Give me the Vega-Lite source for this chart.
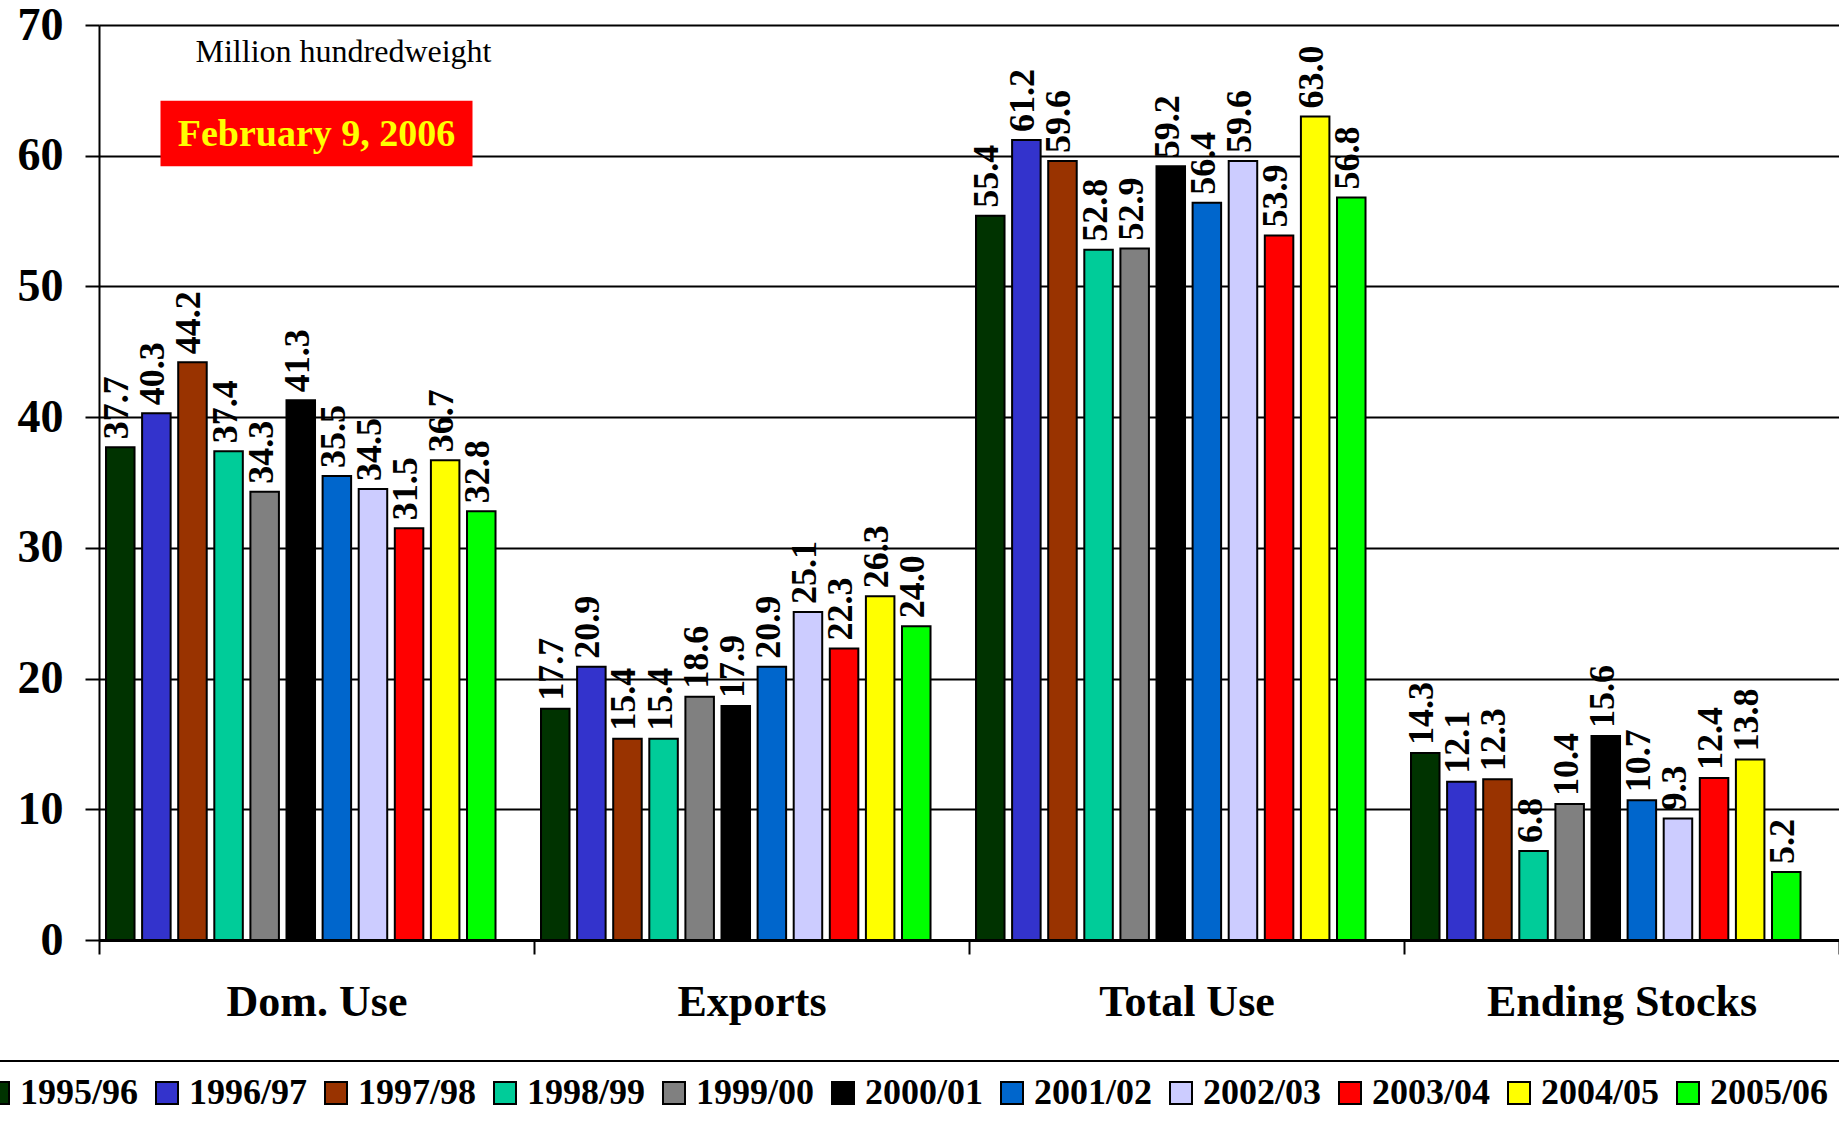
{
  "$schema": "https://vega.github.io/schema/vega-lite/v6.json",
  "width": 1740,
  "height": 915,
  "autosize": {"type": "none"},
  "padding": {"left": 99, "top": 25, "right": 0, "bottom": 181},
  "background": "white",
  "config": {
    "font": "Liberation Serif",
    "view": {"stroke": null},
    "axis": {
      "domainColor": "black",
      "tickColor": "black",
      "tickWidth": 2,
      "tickSize": 14,
      "labelFont": "Liberation Serif",
      "labelFontWeight": "bold",
      "labelColor": "black",
      "labelLimit": 0,
      "gridColor": "black",
      "gridWidth": 2
    },
    "legend": {
      "orient": "none",
      "legendX": -133,
      "legendY": 1036,
      "direction": "horizontal",
      "columns": 11,
      "padding": 14,
      "strokeColor": "black",
      "strokeWidth": 2,
      "symbolType": "square",
      "symbolSize": 484,
      "symbolStrokeColor": "black",
      "symbolStrokeWidth": 2,
      "labelFont": "Liberation Serif",
      "labelFontWeight": "bold",
      "labelFontSize": 36,
      "labelColor": "black",
      "labelOffset": 4,
      "columnPadding": 10,
      "labelLimit": 0
    }
  },
  "datasets": {
    "supply": [
      {"item": "Dom. Use", "season": "1995/96", "value": 37.7},
      {"item": "Dom. Use", "season": "1996/97", "value": 40.3},
      {"item": "Dom. Use", "season": "1997/98", "value": 44.2},
      {"item": "Dom. Use", "season": "1998/99", "value": 37.4},
      {"item": "Dom. Use", "season": "1999/00", "value": 34.3},
      {"item": "Dom. Use", "season": "2000/01", "value": 41.3},
      {"item": "Dom. Use", "season": "2001/02", "value": 35.5},
      {"item": "Dom. Use", "season": "2002/03", "value": 34.5},
      {"item": "Dom. Use", "season": "2003/04", "value": 31.5},
      {"item": "Dom. Use", "season": "2004/05", "value": 36.7},
      {"item": "Dom. Use", "season": "2005/06", "value": 32.8},
      {"item": "Exports", "season": "1995/96", "value": 17.7},
      {"item": "Exports", "season": "1996/97", "value": 20.9},
      {"item": "Exports", "season": "1997/98", "value": 15.4},
      {"item": "Exports", "season": "1998/99", "value": 15.4},
      {"item": "Exports", "season": "1999/00", "value": 18.6},
      {"item": "Exports", "season": "2000/01", "value": 17.9},
      {"item": "Exports", "season": "2001/02", "value": 20.9},
      {"item": "Exports", "season": "2002/03", "value": 25.1},
      {"item": "Exports", "season": "2003/04", "value": 22.3},
      {"item": "Exports", "season": "2004/05", "value": 26.3},
      {"item": "Exports", "season": "2005/06", "value": 24.0},
      {"item": "Total Use", "season": "1995/96", "value": 55.4},
      {"item": "Total Use", "season": "1996/97", "value": 61.2},
      {"item": "Total Use", "season": "1997/98", "value": 59.6},
      {"item": "Total Use", "season": "1998/99", "value": 52.8},
      {"item": "Total Use", "season": "1999/00", "value": 52.9},
      {"item": "Total Use", "season": "2000/01", "value": 59.2},
      {"item": "Total Use", "season": "2001/02", "value": 56.4},
      {"item": "Total Use", "season": "2002/03", "value": 59.6},
      {"item": "Total Use", "season": "2003/04", "value": 53.9},
      {"item": "Total Use", "season": "2004/05", "value": 63.0},
      {"item": "Total Use", "season": "2005/06", "value": 56.8},
      {"item": "Ending Stocks", "season": "1995/96", "value": 14.3},
      {"item": "Ending Stocks", "season": "1996/97", "value": 12.1},
      {"item": "Ending Stocks", "season": "1997/98", "value": 12.3},
      {"item": "Ending Stocks", "season": "1998/99", "value": 6.8},
      {"item": "Ending Stocks", "season": "1999/00", "value": 10.4},
      {"item": "Ending Stocks", "season": "2000/01", "value": 15.6},
      {"item": "Ending Stocks", "season": "2001/02", "value": 10.7},
      {"item": "Ending Stocks", "season": "2002/03", "value": 9.3},
      {"item": "Ending Stocks", "season": "2003/04", "value": 12.4},
      {"item": "Ending Stocks", "season": "2004/05", "value": 13.8},
      {"item": "Ending Stocks", "season": "2005/06", "value": 5.2}
    ],
    "stamp": [
      {"item": "Dom. Use", "label": "February 9, 2006", "lo": 59.2, "hi": 64.2, "mid": 61.6}
    ],
    "unit": [
      {"item": "Dom. Use", "label": "Million hundredweight", "at": 67.2}
    ]
  },
  "layer": [
    {
      "data": {"name": "supply"},
      "mark": {"type": "bar", "stroke": "black", "strokeWidth": 2},
      "encoding": {
        "x": {
          "field": "item",
          "type": "nominal",
          "title": null,
          "scale": {
            "domain": ["Dom. Use", "Exports", "Total Use", "Ending Stocks"],
            "paddingInner": 0,
            "paddingOuter": 0
          },
          "axis": {
            "labelAngle": 0,
            "labelFontSize": 44,
            "labelPadding": 26,
            "tickBand": "extent",
            "domainWidth": 3,
            "grid": false
          }
        },
        "xOffset": {
          "field": "season",
          "type": "nominal",
          "scale": {"paddingInner": 0.21, "paddingOuter": 0.63, "align": 0.154}
        },
        "y": {
          "field": "value",
          "type": "quantitative",
          "title": null,
          "scale": {"domain": [0, 70], "nice": false},
          "axis": {
            "values": [0, 10, 20, 30, 40, 50, 60, 70],
            "labelFontSize": 46,
            "labelPadding": 22,
            "domainWidth": 2,
            "grid": true
          }
        },
        "color": {
          "field": "season",
          "type": "nominal",
          "title": null,
          "scale": {
            "domain": ["1995/96", "1996/97", "1997/98", "1998/99", "1999/00", "2000/01", "2001/02", "2002/03", "2003/04", "2004/05", "2005/06"],
            "range": ["#003300", "#3333CC", "#993300", "#00CC99", "#808080", "#000000", "#0066CC", "#CCCCFF", "#FF0000", "#FFFF00", "#00FF00"]
          }
        }
      }
    },
    {
      "data": {"name": "supply"},
      "mark": {
        "type": "text",
        "angle": 270,
        "align": "left",
        "baseline": "middle",
        "dx": 8,
        "dy": -3,
        "fontSize": 36,
        "fontWeight": "bold",
        "color": "black"
      },
      "encoding": {
        "x": {"field": "item", "type": "nominal"},
        "xOffset": {"field": "season", "type": "nominal"},
        "y": {"field": "value", "type": "quantitative"},
        "text": {"field": "value", "type": "quantitative", "format": ".1f"}
      }
    },
    {
      "data": {"name": "stamp"},
      "mark": {"type": "bar", "width": 312, "color": "#FF0000"},
      "encoding": {
        "x": {"field": "item", "type": "nominal"},
        "y": {"field": "lo", "type": "quantitative"},
        "y2": {"field": "hi"}
      }
    },
    {
      "data": {"name": "stamp"},
      "mark": {
        "type": "text",
        "align": "center",
        "baseline": "middle",
        "fontSize": 38,
        "fontWeight": "bold",
        "color": "#FFFF00"
      },
      "encoding": {
        "x": {"field": "item", "type": "nominal"},
        "y": {"field": "mid", "type": "quantitative"},
        "text": {"field": "label"}
      }
    },
    {
      "data": {"name": "unit"},
      "mark": {
        "type": "text",
        "align": "center",
        "baseline": "alphabetic",
        "dx": 27,
        "fontSize": 32,
        "color": "black"
      },
      "encoding": {
        "x": {"field": "item", "type": "nominal"},
        "y": {"field": "at", "type": "quantitative"},
        "text": {"field": "label"}
      }
    }
  ]
}
